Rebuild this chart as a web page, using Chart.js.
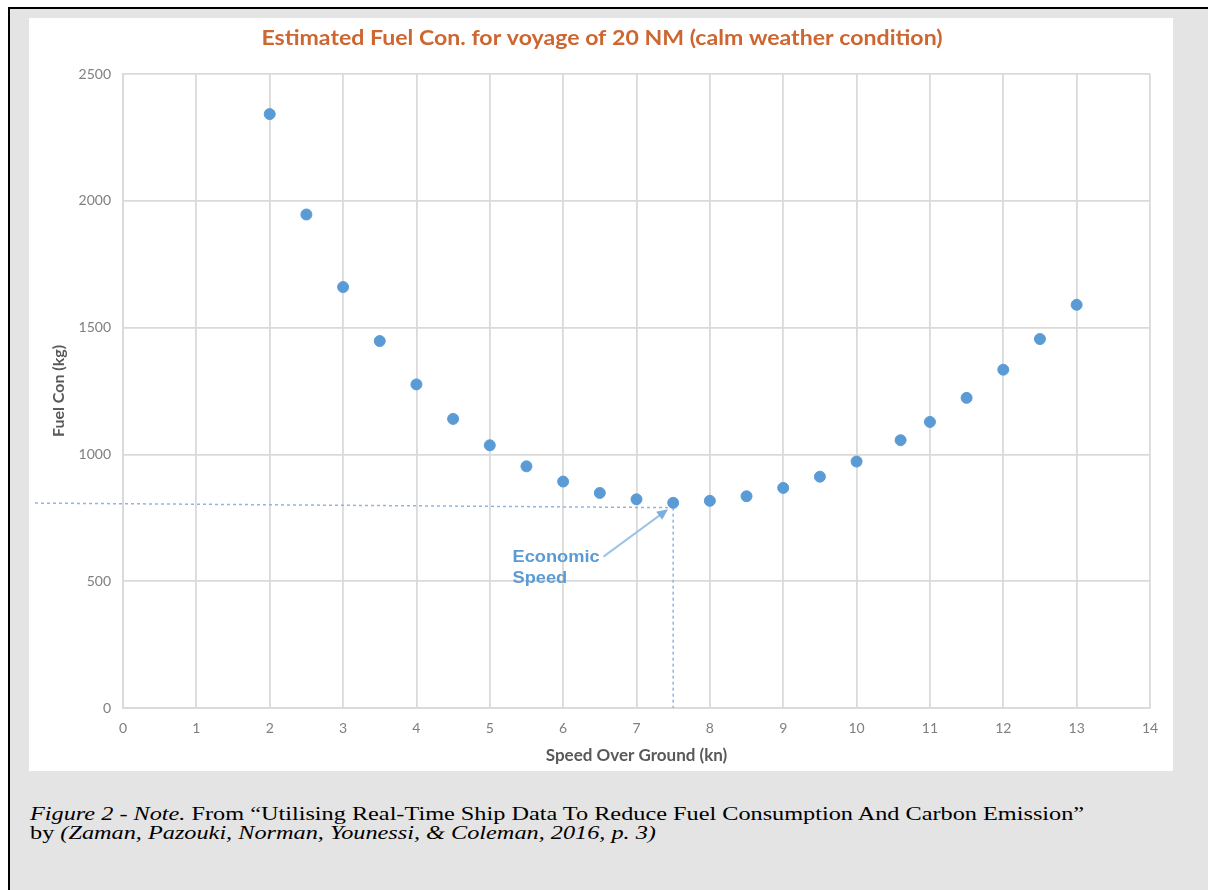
<!DOCTYPE html>
<html>
<head>
<meta charset="utf-8">
<script src="https://cdn.jsdelivr.net/npm/chart.js@4.4.0/dist/chart.umd.min.js"></script>
<style>
  body { margin:0; background:#fff; overflow:hidden; }
  #frame { position:absolute; left:8px; top:7px; width:1300px; height:1000px;
           background:#e4e4e4; border-top:2px solid #000; border-left:2px solid #000; }
  #panel { position:absolute; left:29px; top:18px; width:1144px; height:753px; background:#fff; }
  #caption { position:absolute; left:30px; top:804px; font-family:"Liberation Serif", serif;
             font-size:19px; line-height:19px; color:#000; white-space:nowrap;
             transform:scaleX(1.277); transform-origin:left top; }
</style>
</head>
<body>
<div id="frame"></div>
<div id="panel"><canvas id="fuelChart"></canvas></div>
<div id="caption"><i>Figure 2 - Note.</i> From “Utilising Real-Time Ship Data To Reduce Fuel Consumption And Carbon Emission”<br>by <i>(Zaman, Pazouki, Norman, Younessi, &amp; Coleman, 2016, p. 3)</i></div>
<script>
// speed over ground (kn) and estimated fuel (kg)
let speeds = [2, 2.5, 3, 3.5, 4, 4.5, 5, 5.5, 6, 6.5, 7, 7.5, 8, 8.5, 9, 9.5, 10, 10.6, 11, 11.5, 12, 12.5, 13];
let fuel = [2342, 1946, 1660, 1447, 1276, 1140, 1036, 953, 893, 848, 823, 809, 817, 835, 868, 912, 972, 1056, 1128, 1223, 1334, 1455, 1590];

let chartTitle = 'Estimated Fuel Con. for voyage of 20 NM (calm weather condition)';

// economic speed marker
let ecoSpeed = 7.5;
let ecoFuelLeft = 808;
let ecoFuelRight = 790;
let ecoText = ["Economic", "Speed"];
let ecoTextAt = [5.31, 594];
let arrowFrom = [6.55, 597];
let arrowTo = [7.43, 784];

let points = speeds.map((s, i) => ({x: s, y: fuel[i]}));

////// title drawn a bit wider (the original font is wider than Lato)
const wideTitle = {
    id: 'wideTitle',
    afterDraw(chart){
        const ctx = chart.ctx;
        const tb = chart.titleBlock;
        ctx.save();
        ctx.font = 'bold 21px Lato';
        ctx.fillStyle = '#cd6630';
        ctx.textAlign = 'center';
        ctx.textBaseline = 'middle';
        ctx.translate(chart.width / 2 + 1, tb.top + 20);
        ctx.scale(1.1, 1);
        ctx.fillText(chartTitle, 0, 0);
        ctx.restore();
    }
};

////// dotted guide lines + arrow label
const ecoPlugin = {
    id: 'ecoSpeed',
    beforeDatasetsDraw(chart){
        const ctx = chart.ctx;
        const xs = chart.scales.x, ys = chart.scales.y;
        ctx.save();
        ctx.strokeStyle = '#8fb6e0';
        ctx.lineWidth = 1.5;
        ctx.setLineDash([3, 3]);
        ctx.beginPath();
        ctx.moveTo(6, ys.getPixelForValue(ecoFuelLeft));
        ctx.lineTo(xs.getPixelForValue(ecoSpeed) - 2, ys.getPixelForValue(ecoFuelRight));
        ctx.stroke();
        ctx.beginPath();
        ctx.moveTo(xs.getPixelForValue(ecoSpeed), ys.getPixelForValue(ecoFuelRight));
        ctx.lineTo(xs.getPixelForValue(ecoSpeed), ys.getPixelForValue(0));
        ctx.stroke();
        ctx.restore();
    },
    afterDatasetsDraw(chart){
        const ctx = chart.ctx;
        const xs = chart.scales.x, ys = chart.scales.y;
        ctx.save();
        let x1 = xs.getPixelForValue(arrowFrom[0]), y1 = ys.getPixelForValue(arrowFrom[1]);
        let x2 = xs.getPixelForValue(arrowTo[0]), y2 = ys.getPixelForValue(arrowTo[1]);
        let ang = Math.atan2(y2 - y1, x2 - x1);
        ctx.strokeStyle = '#9dc3e6';
        ctx.fillStyle = '#7eaedb';
        ctx.lineWidth = 2;
        ctx.beginPath();
        ctx.moveTo(x1, y1);
        ctx.lineTo(x2 - 8 * Math.cos(ang), y2 - 8 * Math.sin(ang));
        ctx.stroke();
        ctx.beginPath();
        ctx.moveTo(x2, y2);
        ctx.lineTo(x2 - 11 * Math.cos(ang) + 5 * Math.sin(ang), y2 - 11 * Math.sin(ang) - 5 * Math.cos(ang));
        ctx.lineTo(x2 - 11 * Math.cos(ang) - 5 * Math.sin(ang), y2 - 11 * Math.sin(ang) + 5 * Math.cos(ang));
        ctx.closePath();
        ctx.fill();
        ctx.fillStyle = '#5b9bd5';
        ctx.font = 'bold 16px "Liberation Sans", Arial, sans-serif';
        ctx.textBaseline = 'middle';
        let tx = xs.getPixelForValue(ecoTextAt[0]);
        let ty = ys.getPixelForValue(ecoTextAt[1]);
        ctx.translate(tx, ty);
        ctx.scale(1.14, 1);
        ctx.fillText(ecoText[0], 0, 0);
        ctx.fillText(ecoText[1], 0, 21);
        ctx.restore();
    }
};

const grid = { color: '#dadada', lineWidth: 1.8, drawTicks: false };

new Chart(document.getElementById('fuelChart'), {
    type: 'scatter',
    data: {
        datasets: [{
            label: 'Fuel Con',
            data: points,
            backgroundColor: '#5b9bd5',
            borderColor: '#5b9bd5',
            pointRadius: 5.5,
            pointHoverRadius: 5.5
        }]
    },
    options: {
        responsive: true,
        maintainAspectRatio: false,
        animation: false,
        layout: { padding: { left: 16, right: 23, top: 0, bottom: 0 } },
        plugins: {
            legend: { display: false },
            tooltip: { enabled: false },
            title: {
                // keeps the space; the text itself is painted by wideTitle
                display: true,
                text: chartTitle,
                color: 'rgba(0,0,0,0)',
                font: { family: 'Lato', size: 20, weight: 'bold' },
                padding: { top: 8, bottom: 24 }
            }
        },
        scales: {
            x: {
                type: 'linear',
                min: 0, max: 14,
                ticks: { stepSize: 1, color: '#7f7f7f', padding: 12, font: { family: 'Lato', size: 14 } },
                grid: grid,
                border: { color: '#dadada', width: 1.8 },
                title: { display: true, text: 'Speed Over Ground (kn)', color: '#595959',
                         font: { family: 'Lato', size: 17, weight: 'bold' }, padding: { top: 4, bottom: 5 } },
                afterFit(scale){ scale.height = 63; }
            },
            y: {
                min: 0, max: 2500,
                ticks: { stepSize: 500, color: '#7f7f7f', padding: 12, font: { family: 'Lato', size: 14 },
                         callback: v => String(v) },
                grid: grid,
                border: { color: '#dadada', width: 1.8 },
                title: { display: true, text: 'Fuel Con (kg)', color: '#595959',
                         font: { family: 'Lato', size: 16, weight: 'bold' }, padding: { top: 4, bottom: 4 } },
                afterFit(scale){ scale.width = 78; }
            }
        }
    },
    plugins: [ecoPlugin, wideTitle]
});
</script>
</body>
</html>
